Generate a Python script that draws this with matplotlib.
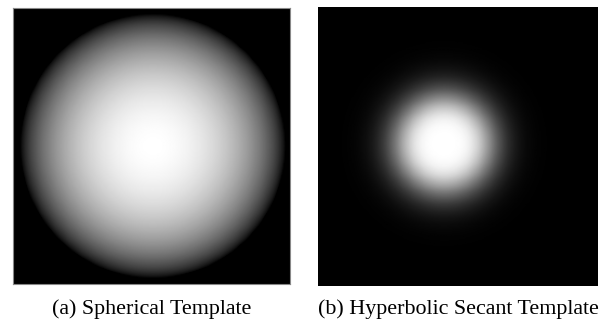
import numpy as np
import matplotlib.pyplot as plt

plt.rcParams['font.family'] = ['Liberation Serif', 'DejaVu Serif']

# template grids (pixels)
grid_n = 256
titles = ["(a) Spherical Template", "(b) Hyperbolic Secant Template"]

# spherical template: centre and radius as fraction of the panel
sph_center = (0.505, 0.50)
sph_radius = 0.48
sph_gamma = 0.7

# hyperbolic secant template: centre and width as fraction of the panel
sech_center = (0.45, 0.49)
sech_width = 0.105

yy, xx = np.mgrid[0:1:grid_n * 1j, 0:1:grid_n * 1j]

r_sph = np.hypot(xx - sph_center[0], yy - sph_center[1]) / sph_radius
sphere = np.clip(1 - r_sph ** 2, 0, None) ** sph_gamma

r_sech = np.hypot(xx - sech_center[0], yy - sech_center[1]) / sech_width
sech = 1 / np.cosh(r_sech ** 2 / 2)

fig = plt.figure(figsize=(6.02, 3.2), dpi=100)
ax1 = fig.add_axes([13 / 602, 36 / 320, 277 / 602, 276 / 320])
ax2 = fig.add_axes([318 / 602, 34 / 320, 280 / 602, 279 / 320])

ax1.imshow(sphere, cmap='gray', vmin=0, vmax=1, extent=(0, 1, 1, 0), aspect='auto')
ax2.imshow(sech, cmap='gray', vmin=0, vmax=1, extent=(0, 1, 1, 0), aspect='auto')

for ax in (ax1, ax2):
    ax.set_xticks([])
    ax.set_yticks([])
for s in ax1.spines.values():
    s.set_color('#888888')
    s.set_linewidth(0.8)
for s in ax2.spines.values():
    s.set_visible(False)

fig.text(152 / 602, 1 - 309 / 320, titles[0], ha='center', va='center', fontsize=15.8)
fig.text(458 / 602, 1 - 309 / 320, titles[1], ha='center', va='center', fontsize=15.8)

fig.savefig('out.png', dpi=100)
